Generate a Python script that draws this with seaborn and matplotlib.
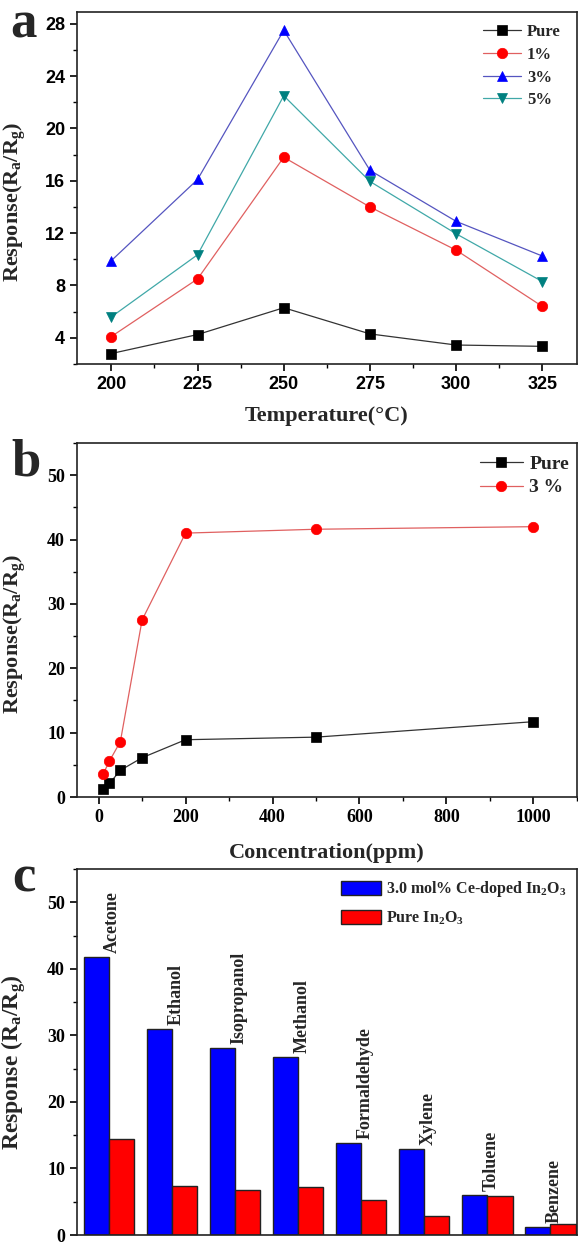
import matplotlib
matplotlib.use("Agg")
import matplotlib.pyplot as plt
import pandas as pd
import seaborn as sns
from matplotlib.ticker import MultipleLocator

# panel a: response vs operating temperature
temps = [200, 225, 250, 275, 300, 325]
pure_t = [2.8, 4.25, 6.3, 4.3, 3.45, 3.35]
ce1_t = [4.1, 8.5, 17.8, 14.0, 10.7, 6.4]
ce3_t = [9.9, 16.1, 27.5, 16.8, 12.9, 10.25]
ce5_t = [5.6, 10.35, 22.5, 15.95, 11.95, 8.3]

# panel b: response vs acetone concentration
conc = [10, 25, 50, 100, 200, 500, 1000]
pure_c = [1.3, 2.1, 4.15, 6.1, 8.9, 9.3, 11.7]
ce3_c = [3.5, 5.6, 8.6, 27.5, 41.0, 41.6, 42.0]

# panel c: selectivity
gases = ['Acetone', 'Ethanol', 'Isopropanol', 'Methanol',
         'Formaldehyde', 'Xylene', 'Toluene', 'Benzene']
doped_g = [41.8, 31.0, 28.1, 26.8, 13.9, 12.9, 6.0, 1.2]
pure_g = [14.4, 7.4, 6.8, 7.2, 5.2, 2.8, 5.9, 1.6]
lab_doped = '3.0 mol% Ce-doped In$_2$O$_3$'
lab_pure = 'Pure In$_2$O$_3$'

sns.set_style("ticks")
plt.rcParams['font.family'] = ['Liberation Serif', 'DejaVu Serif']
plt.rcParams['font.weight'] = 'bold'
plt.rcParams['axes.labelweight'] = 'bold'
plt.rcParams['mathtext.fontset'] = 'custom'
plt.rcParams['mathtext.rm'] = 'Liberation Serif:bold'
plt.rcParams['mathtext.it'] = 'Liberation Serif:bold'
plt.rcParams['mathtext.bf'] = 'Liberation Serif:bold'
plt.rcParams['mathtext.default'] = 'rm'
plt.rcParams['axes.linewidth'] = 1.2

fig = plt.figure(figsize=(5.78, 12.5), dpi=100)
ax_a = fig.add_axes([0.133, 0.7088, 0.865, 0.2816])
ax_b = fig.add_axes([0.133, 0.3624, 0.865, 0.2832])
ax_c = fig.add_axes([0.133, 0.012, 0.865, 0.2928])


def style_axes(ax):
    for s in ax.spines.values():
        s.set_color('#222222')
        s.set_linewidth(1.2)
    ax.tick_params(which='major', direction='out', length=5, width=1.2, colors='black')
    ax.tick_params(which='minor', direction='out', length=3, width=1.0, colors='black')


# ---- a ----
series_a = [
    ('Pure', pure_t, 's', 'black', '#333333'),
    ('1%', ce1_t, 'o', '#ff0000', '#e06060'),
    ('3%', ce3_t, '^', '#0000ff', '#5555c0'),
    ('5%', ce5_t, 'v', '#008080', '#40a8a8'),
]
for name, vals, mk, mcol, lcol in series_a:
    sns.lineplot(x=temps, y=vals, ax=ax_a, color=lcol, lw=0.9, marker=mk,
                 markersize=7.5, markerfacecolor=mcol, markeredgecolor=mcol,
                 markeredgewidth=0.5, label=name, legend=False)
ax_a.set_xlim(190, 335)
ax_a.set_ylim(2, 28.9)
ax_a.xaxis.set_major_locator(MultipleLocator(25))
ax_a.xaxis.set_minor_locator(MultipleLocator(12.5))
ax_a.yaxis.set_major_locator(MultipleLocator(4))
ax_a.yaxis.set_minor_locator(MultipleLocator(2))
style_axes(ax_a)
ax_a.tick_params(labelsize=13, labelfontfamily='Liberation Sans')
ax_a.set_xlabel('Temperature(°C)', fontsize=16, va='top')
ax_a.xaxis.set_label_coords(0.5, -0.118)
ax_a.set_ylabel('Response(R$_a$/R$_g$)', fontsize=16)
ax_a.yaxis.set_label_coords(-0.098, 0.46)
ax_a.legend(loc='upper left', bbox_to_anchor=(0.812, 0.965), frameon=False,
            fontsize=12, handlelength=2.3, handletextpad=0.35, labelspacing=0.4,
            borderpad=0, borderaxespad=0)

# ---- b ----
series_b = [
    ('Pure', pure_c, 's', 'black', '#333333'),
    ('3 %', ce3_c, 'o', '#ff0000', '#e06060'),
]
for name, vals, mk, mcol, lcol in series_b:
    sns.lineplot(x=conc, y=vals, ax=ax_b, color=lcol, lw=0.9, marker=mk,
                 markersize=7.5, markerfacecolor=mcol, markeredgecolor=mcol,
                 markeredgewidth=0.5, label=name, legend=False)
ax_b.set_xlim(-50, 1100)
ax_b.set_ylim(0, 55)
ax_b.xaxis.set_major_locator(MultipleLocator(200))
ax_b.xaxis.set_minor_locator(MultipleLocator(100))
ax_b.yaxis.set_major_locator(MultipleLocator(10))
ax_b.yaxis.set_minor_locator(MultipleLocator(5))
style_axes(ax_b)
ax_b.tick_params(labelsize=13)
ax_b.set_xlabel('Concentration(ppm)', fontsize=16, va='top')
ax_b.xaxis.set_label_coords(0.5, -0.13)
ax_b.set_ylabel('Response(R$_a$/R$_g$)', fontsize=16)
ax_b.yaxis.set_label_coords(-0.098, 0.46)
ax_b.legend(loc='upper left', bbox_to_anchor=(0.806, 0.965), frameon=False,
            fontsize=14, handlelength=2.2, handletextpad=0.35, labelspacing=0.3,
            borderpad=0, borderaxespad=0)

# ---- c ----
df_c = pd.DataFrame({
    'Gas': gases + gases,
    'Response': doped_g + pure_g,
    'Sample': [lab_doped] * len(gases) + [lab_pure] * len(gases),
})
sns.barplot(data=df_c, x='Gas', y='Response', hue='Sample',
            palette=['#0000ff', '#ff0000'], saturation=1, width=0.8,
            edgecolor='#222222', linewidth=1.0, ax=ax_c)
for i, (g, v) in enumerate(zip(gases, doped_g)):
    ax_c.text(i + 0.06, v + 0.6, g, rotation=90, ha='center', va='bottom',
              fontsize=13, fontweight='bold')
ax_c.set_xlim(-0.51, 7.42)
ax_c.set_ylim(0, 55)
ax_c.set_xticks([])
ax_c.set_xlabel('')
ax_c.yaxis.set_major_locator(MultipleLocator(10))
ax_c.yaxis.set_minor_locator(MultipleLocator(5))
style_axes(ax_c)
ax_c.tick_params(labelsize=13)
ax_c.set_ylabel('Response (R$_a$/R$_g$)', fontsize=17)
ax_c.yaxis.set_label_coords(-0.098, 0.473)
handles, labels = ax_c.get_legend_handles_labels()
ax_c.legend(handles, labels, loc='upper left', bbox_to_anchor=(0.529, 0.972),
            frameon=False, fontsize=11.5, handlelength=2.5, handleheight=1.0,
            handletextpad=0.3, labelspacing=0.65, borderpad=0, borderaxespad=0)

# panel letters
fig.text(0.018, 1 - 37 / 1250, 'a', fontsize=38, fontweight='bold', va='baseline')
fig.text(0.020, 1 - 475 / 1250, 'b', fontsize=38, fontweight='bold', va='baseline')
fig.text(0.022, 1 - 892 / 1250, 'c', fontsize=38, fontweight='bold', va='baseline')

fig.savefig('out.png', dpi=100)
